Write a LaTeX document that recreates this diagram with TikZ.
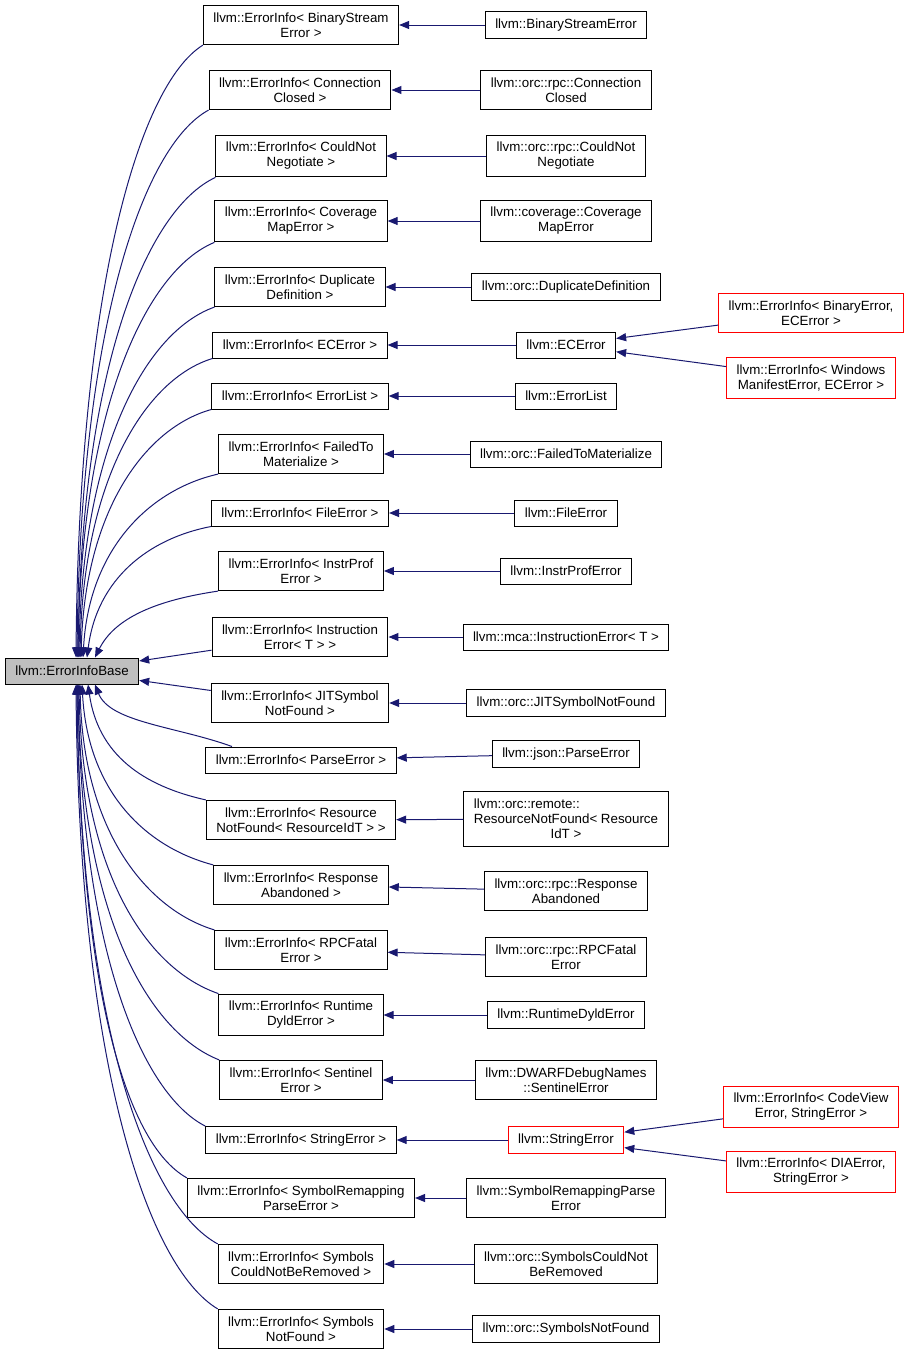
\documentclass[tikz,border=0pt]{standalone}
\usepackage{fontspec}
\setmainfont{Liberation Sans}
\usetikzlibrary{arrows.meta}
\definecolor{bleunuit}{RGB}{25,25,112}
\definecolor{grisbase}{RGB}{191,191,191}

\begin{document}
\begin{tikzpicture}[x=0.75pt, y=-0.75pt,
  classe/.style={draw, line width=0.75pt, align=center, inner xsep=7.5pt, inner ysep=5.4pt,
    minimum height=19.5pt, font=\fontsize{10}{11.25}\selectfont},
  rouge/.style={classe, draw=red},
  lien/.style={draw=bleunuit, line width=0.75pt, -{Triangle[length=7.5pt,width=6pt]}}]
\useasboundingbox (0,0) rectangle (909,1356); % Pour la bounding box

% classe de base
\node[classe, fill=grisbase] (base) at (72,671) {llvm::ErrorInfoBase};

% colonne des ErrorInfo
\node[classe] (info1) at (301,25) {llvm::ErrorInfo< BinaryStream\\Error >};
\node[classe] (info2) at (300,90) {llvm::ErrorInfo< Connection\\Closed >};
\node[classe] (info3) at (301,156) {llvm::ErrorInfo< CouldNot\\Negotiate >};
\node[classe] (info4) at (301,221) {llvm::ErrorInfo< Coverage\\MapError >};
\node[classe] (info5) at (300,287) {llvm::ErrorInfo< Duplicate\\Definition >};
\node[classe] (info6) at (300,345) {llvm::ErrorInfo< ECError >};
\node[classe] (info7) at (300,396) {llvm::ErrorInfo< ErrorList >};
\node[classe] (info8) at (301,454) {llvm::ErrorInfo< FailedTo\\Materialize >};
\node[classe] (info9) at (300,513) {llvm::ErrorInfo< FileError >};
\node[classe] (info10) at (301,571) {llvm::ErrorInfo< InstrProf\\Error >};
\node[classe] (info11) at (300,637) {llvm::ErrorInfo< Instruction\\Error< T > >};
\node[classe] (info12) at (300,703) {llvm::ErrorInfo< JITSymbol\\NotFound >};
\node[classe] (info13) at (301,760) {llvm::ErrorInfo< ParseError >};
\node[classe] (info14) at (301,820) {llvm::ErrorInfo< Resource\\NotFound< ResourceIdT > >};
\node[classe] (info15) at (301,885) {llvm::ErrorInfo< Response\\Abandoned >};
\node[classe] (info16) at (301,950) {llvm::ErrorInfo< RPCFatal\\Error >};
\node[classe] (info17) at (301,1015) {llvm::ErrorInfo< Runtime\\DyldError >};
\node[classe] (info18) at (301,1080) {llvm::ErrorInfo< Sentinel\\Error >};
\node[classe] (info19) at (301,1140) {llvm::ErrorInfo< StringError >};
\node[classe] (info20) at (301,1198) {llvm::ErrorInfo< SymbolRemapping\\ParseError >};
\node[classe] (info21) at (301,1264) {llvm::ErrorInfo< Symbols\\CouldNotBeRemoved >};
\node[classe] (info22) at (301,1329) {llvm::ErrorInfo< Symbols\\NotFound >};

% colonne des classes derivees
\node[classe] (cls1) at (566,25) {llvm::BinaryStreamError};
\node[classe] (cls2) at (566,90) {llvm::orc::rpc::Connection\\Closed};
\node[classe] (cls3) at (566,156) {llvm::orc::rpc::CouldNot\\Negotiate};
\node[classe] (cls4) at (566,221) {llvm::coverage::Coverage\\MapError};
\node[classe] (cls5) at (566,287) {llvm::orc::DuplicateDefinition};
\node[classe] (cls6) at (566,345) {llvm::ECError};
\node[classe] (cls7) at (566,396) {llvm::ErrorList};
\node[classe] (cls8) at (566,454) {llvm::orc::FailedToMaterialize};
\node[classe] (cls9) at (566,513) {llvm::FileError};
\node[classe] (cls10) at (566,571) {llvm::InstrProfError};
\node[classe] (cls11) at (566,637) {llvm::mca::InstructionError< T >};
\node[classe] (cls12) at (566,703) {llvm::orc::JITSymbolNotFound};
\node[classe] (cls13) at (566,754) {llvm::json::ParseError};
\node[classe] (cls14) at (566,819) {\rlap{llvm::orc::remote::}\hphantom{ResourceNotFound< Resource}\\ResourceNotFound< Resource\\IdT >};
\node[classe] (cls15) at (566,891) {llvm::orc::rpc::Response\\Abandoned};
\node[classe] (cls16) at (566,957) {llvm::orc::rpc::RPCFatal\\Error};
\node[classe] (cls17) at (566,1015) {llvm::RuntimeDyldError};
\node[classe] (cls18) at (566,1080) {llvm::DWARFDebugNames\\::SentinelError};
\node[rouge] (cls19) at (566,1140) {llvm::StringError};
\node[classe] (cls20) at (566,1198) {llvm::SymbolRemappingParse\\Error};
\node[classe] (cls21) at (566,1264) {llvm::orc::SymbolsCouldNot\\BeRemoved};
\node[classe] (cls22) at (566,1329) {llvm::orc::SymbolsNotFound};

% troisieme colonne
\node[rouge] (rouge1) at (811,313) {llvm::ErrorInfo< BinaryError,\\ECError >};
\node[rouge] (rouge2) at (811,378) {llvm::ErrorInfo< Windows\\ManifestError, ECError >};
\node[rouge] (rouge3) at (811,1107) {llvm::ErrorInfo< CodeView\\Error, StringError >};
\node[rouge] (rouge4) at (811,1172) {llvm::ErrorInfo< DIAError,\\StringError >};

% heritage
\foreach \k in {1,...,22}
  \draw[lien] (cls\k) -- (info\k);
\draw[lien] (rouge1) -- (cls6);
\draw[lien] (rouge2) -- (cls6);
\draw[lien] (rouge3) -- (cls19);
\draw[lien] (rouge4) -- (cls19);

% courbes vers la base
\foreach \n/\h/\d/\v/\x/\s in {1/64/40/368/3/3, 2/66/36/329/3/3.75, 3/69/32/289/3/4.5,
    4/68/28/250/3/4.5, 5/68/24/211/3/5.25, 6/66/20/180/3/6, 7/65/18/149/4/6.75,
    8/67/15/110/6/8.25, 9/62/12/79/10/11.25, 10/61/9/40/20/17.25}
  \draw[lien] (info\n.south west) .. controls +(-\h,\d) and +(\x,-\v) .. ([xshift=\s pt]base.north);
\draw[lien] (info11) -- (base);
\draw[lien] (info12) -- (base);
\draw[lien] ([xshift=20pt]info13.north west) .. controls +(-55,-20) and +(15,38) .. ([xshift=17.25pt]base.south);
\foreach \n/\h/\d/\v/\x/\s in {14/63/14/70/10/12, 15/65/17/110/6/7.5, 16/66/20/149/3/6,
    17/70/24/191/3/5.25, 18/71/28/230/3/4.5, 19/63/32/266/3/4.5, 20/63/35/297/3/3.75,
    21/70/38/341/3/3.75, 22/70/42/380/3/3}
  \draw[lien] (info\n.north west) .. controls +(-\h,-\d) and +(\x,\v) .. ([xshift=\s pt]base.south);
\end{tikzpicture}
\end{document}
